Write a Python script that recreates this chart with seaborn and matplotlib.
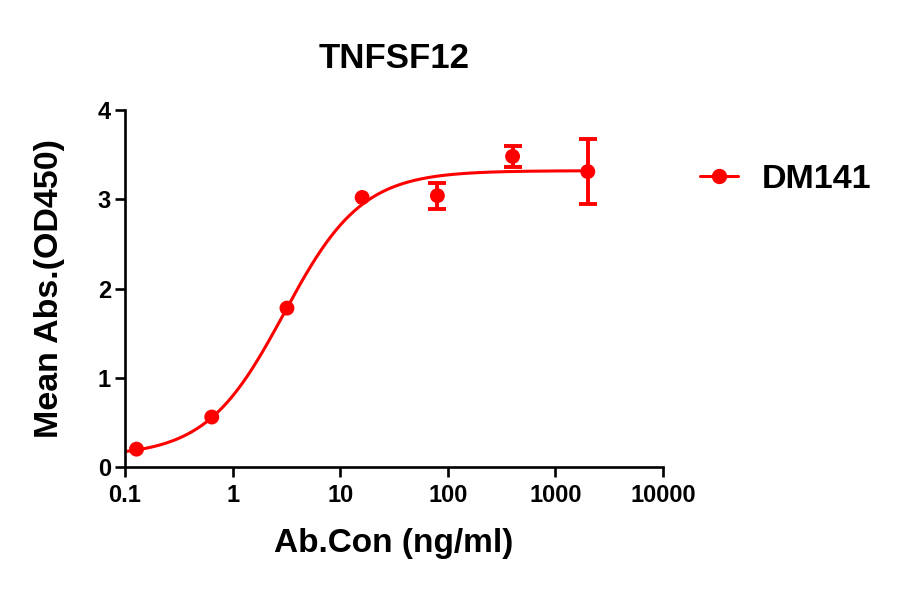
import numpy as np
import pandas as pd
import matplotlib
matplotlib.use("Agg")
import matplotlib.pyplot as plt
import seaborn as sns
from matplotlib.lines import Line2D

# measured points (ng/ml vs OD450)
conc = [0.128, 0.64, 3.2, 16, 80, 400, 2000]
od450 = [0.20, 0.56, 1.78, 3.02, 3.04, 3.48, 3.31]
od_err = [0.0, 0.0, 0.0, 0.0, 0.145, 0.115, 0.36]

# 4PL fit parameters
bottom, top, ec50, hill = 0.12, 3.32, 3.0, 1.2

series_name = "DM141"
title = "TNFSF12"
red = "#ff0000"

sns.set_style("ticks")
plt.rcParams["font.family"] = ["Liberation Sans", "DejaVu Sans"]
plt.rcParams["font.weight"] = "bold"
plt.rcParams["text.color"] = "black"
plt.rcParams["axes.labelcolor"] = "black"
plt.rcParams["xtick.color"] = "black"
plt.rcParams["ytick.color"] = "black"

fig = plt.figure(figsize=(9, 5.94), dpi=100)
ax = fig.add_axes([125 / 900, 1 - 467 / 594, 538 / 900, 357 / 594])

xfit = np.logspace(np.log10(0.1), np.log10(2000), 300)
yfit = bottom + (top - bottom) / (1 + (ec50 / xfit) ** hill)
fit = pd.DataFrame({"x": xfit, "y": yfit})
sns.lineplot(data=fit, x="x", y="y", ax=ax, color=red, linewidth=2.2)

pts = pd.DataFrame({"conc": conc, "od": od450, "err": od_err})
sns.scatterplot(data=pts, x="conc", y="od", ax=ax, color=red, s=115,
                edgecolor="none", zorder=3)
withbar = pts[pts["err"] > 0]
ax.errorbar(withbar["conc"], withbar["od"], yerr=withbar["err"], fmt="none",
            ecolor=red, elinewidth=2.8, capsize=6.5, capthick=2.8, zorder=3)

ax.set_xscale("log")
ax.set_xlim(0.1, 10000)
ax.set_ylim(0, 4)
ax.set_xticks([0.1, 1, 10, 100, 1000, 10000])
ax.set_xticklabels(["0.1", "1", "10", "100", "1000", "10000"])
ax.xaxis.set_minor_locator(matplotlib.ticker.NullLocator())
ax.set_yticks([0, 1, 2, 3, 4])

for s in ["top", "right"]:
    ax.spines[s].set_visible(False)
for s in ["left", "bottom"]:
    ax.spines[s].set_linewidth(1.9)
    ax.spines[s].set_color("black")
ax.tick_params(axis="both", width=1.9, length=7.5, labelsize=17,
               color="black", labelcolor="black", pad=2.5)
ax.tick_params(axis="x", pad=5)
for lab in ax.get_xticklabels() + ax.get_yticklabels():
    lab.set_fontweight("bold")

ax.set_xlabel("Ab.Con (ng/ml)", fontsize=24, fontweight="bold", labelpad=15)
ax.set_ylabel("Mean Abs.(OD450)", fontsize=24.5, fontweight="bold",
              labelpad=24)
ax.set_title(title, fontsize=25, fontweight="bold", pad=30)

handle = Line2D([], [], color=red, marker="o", ms=10, linewidth=2.2)
fig.legend([handle], [series_name], loc="center left",
           bbox_to_anchor=(700 / 900, 1 - 179 / 594), frameon=False,
           prop={"size": 24.5, "weight": "bold"}, handlelength=1.12,
           handletextpad=0.7, borderpad=0, borderaxespad=0)

fig.savefig("out.png", dpi=100)
